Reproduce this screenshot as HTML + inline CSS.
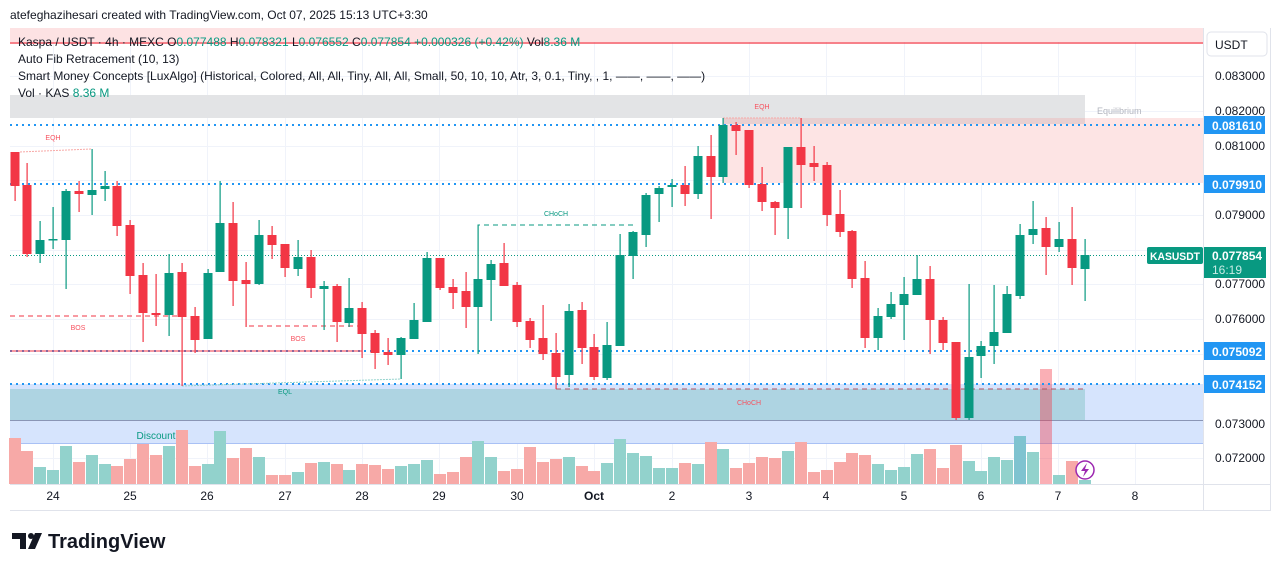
<!DOCTYPE html>
<html><head><meta charset="utf-8"><style>
body{margin:0;background:#fff;width:1281px;height:571px;overflow:hidden;font-family:"Liberation Sans",sans-serif}
svg{position:absolute;left:0;top:0}
text{font-family:"Liberation Sans",sans-serif}
</style></head><body>
<svg id="s" width="1281" height="571" xmlns="http://www.w3.org/2000/svg">
<rect x="0" y="0" width="1281" height="571" fill="#fff"/>
<g id="grid" stroke="#f0f3fa" stroke-width="1"></g>
<rect x="10" y="28" width="1193" height="14" fill="#fde2e3"/>
<line x1="10" y1="43" x2="1203" y2="43" stroke="#f23645" stroke-width="1.2"/>
<rect x="10" y="95" width="1075" height="23" fill="#e3e4e6"/>
<rect x="723" y="118" width="480" height="65" fill="#fde4e4"/>
<rect x="723" y="118" width="362" height="6" fill="#e8cfd0"/>
<rect x="10" y="384" width="1193" height="59" fill="#d6e4fd"/>
<rect x="10" y="389" width="1075" height="31" fill="#aed4e2"/>
<line x1="10" y1="420.5" x2="1203" y2="420.5" stroke="#8a95b5"/>
<line x1="10" y1="443.5" x2="1203" y2="443.5" stroke="#a9c1f5"/>
<text x="1097" y="114" font-size="9" fill="#b2b5be">Equilibrium</text>
<g id="vol"></g>
<g stroke="#2196f3" stroke-width="2" stroke-dasharray="2,4">
<line x1="10" y1="125" x2="1203" y2="125"/>
<line x1="10" y1="184" x2="1203" y2="184"/>
<line x1="10" y1="351" x2="1203" y2="351"/>
<line x1="10" y1="384" x2="1203" y2="384"/>
</g>
<line x1="10" y1="351" x2="362" y2="351" stroke="#f23645" stroke-width="1"/>
<line x1="10" y1="255.5" x2="1145" y2="255.5" stroke="#089981" stroke-dasharray="1,2"/>
<g fill="none" stroke-width="1">
<path d="M10 316 H182" stroke="#f23645" stroke-dasharray="5,4"/>
<path d="M246 284 V326 H360" stroke="#f23645" stroke-dasharray="5,4"/>
<path d="M478 354 V225 H637" stroke="#089981" stroke-dasharray="5,4"/>
<path d="M556 389 H1085" stroke="#b2525e" stroke-dasharray="5,4"/>
<path d="M20 152 L92 149" stroke="#f7a9a7" stroke-dasharray="2,1"/>
<path d="M723 118 H801" stroke="#f7a9a7" stroke-dasharray="2,1"/>
<path d="M182 386 L401 379" stroke="#92d2cc" stroke-dasharray="2,1"/>
</g>
<g font-size="7" text-anchor="middle">
<text x="53" y="140" fill="#f7525f">EQH</text>
<text x="762" y="109" fill="#f7525f">EQH</text>
<text x="78" y="330" fill="#f7525f">BOS</text>
<text x="298" y="341" fill="#f7525f">BOS</text>
<text x="556" y="216" fill="#089981">CHoCH</text>
<text x="749" y="405" fill="#f7525f">CHoCH</text>
<text x="285" y="394" fill="#089981">EQL</text>
</g>
<text x="156" y="439" font-size="10" fill="#089981" text-anchor="middle">Discount</text>
<g id="candles"></g>
<line x1="1203.5" y1="28" x2="1203.5" y2="510" stroke="#e0e3eb"/>
<line x1="10" y1="484.5" x2="1271" y2="484.5" stroke="#e0e3eb"/>
<line x1="1270.5" y1="28" x2="1270.5" y2="510" stroke="#e0e3eb"/>
<line x1="10" y1="510.5" x2="1271" y2="510.5" stroke="#e0e3eb"/>
<rect x="1207" y="32" width="60" height="24" rx="4" fill="#fff" stroke="#e0e3eb"/>
<text x="1215" y="49" font-size="12" fill="#131722">USDT</text>
<g id="yl" font-size="12" fill="#131722"></g>
<g id="xl" font-size="12" fill="#131722" text-anchor="middle"></g>
<g font-size="12" font-weight="bold" fill="#fff">
<rect x="1204" y="116" width="61" height="18" fill="#2196f3"/><text x="1212" y="130">0.081610</text>
<rect x="1204" y="175" width="61" height="18" fill="#2196f3"/><text x="1212" y="189">0.079910</text>
<rect x="1204" y="342" width="61" height="18" fill="#2196f3"/><text x="1212" y="356">0.075092</text>
<rect x="1204" y="375" width="61" height="18" fill="#2196f3"/><text x="1212" y="389">0.074152</text>
<rect x="1147" y="247" width="56" height="17" rx="2" fill="#089981"/><text x="1150" y="260" font-size="11" textLength="50" lengthAdjust="spacingAndGlyphs">KASUSDT</text>
<rect x="1204" y="247" width="62" height="31" fill="#089981"/><text x="1212" y="260">0.077854</text>
<text x="1212" y="274" font-weight="normal" fill="#c8ebe5">16:19</text>
</g>
<circle cx="1085" cy="470" r="9" fill="#fff" stroke="#9c27b0" stroke-width="1.5"/>
<path d="M1087 463 L1081 471 H1085 L1083 477 L1089 469 H1085 Z" fill="#9c27b0"/>
<text x="10" y="19" font-size="12" fill="#131722">atefeghazihesari created with TradingView.com, Oct 07, 2025 15:13 UTC+3:30</text>
<g font-size="12" fill="#131722">
<text x="18" y="46">Kaspa / USDT · 4h · MEXC  O<tspan fill="#089981">0.077488</tspan>  H<tspan fill="#089981">0.078321</tspan>  L<tspan fill="#089981">0.076552</tspan>  C<tspan fill="#089981">0.077854  +0.000326 (+0.42%)</tspan>  Vol<tspan fill="#089981">8.36 M</tspan></text>
<text x="18" y="63">Auto Fib Retracement (10, 13)</text>
<text x="18" y="80">Smart Money Concepts [LuxAlgo] (Historical, Colored, All, All, Tiny, All, All, Small, 50, 10, 10, Atr, 3, 0.1, Tiny, , 1, ——, ——, ——)</text>
<text x="18" y="97">Vol · KAS  <tspan fill="#089981">8.36 M</tspan></text>
</g>
<g fill="#131722">
<path d="M12 533 H26 V549 H20 V539 H12 Z"/>
<circle cx="31" cy="536" r="3"/>
<path d="M35 533 H42 L35 549 H28 Z"/>
</g>
<text x="48" y="548" font-size="20" font-weight="bold" fill="#131722">TradingView</text>
</svg>
<script>
var NS="http://www.w3.org/2000/svg";
function el(p,t,a){var e=document.createElementNS(NS,t);for(var k in a)e.setAttribute(k,a[k]);p.appendChild(e);return e;}
var g=document.getElementById('grid');
var ys=[76,111,146,180,215,250,284,319,354,389,424,458];
var xs=[53,130,207,285,362,439,517,594,672,749,826,904,981,1058,1135];
ys.forEach(function(y){el(g,'line',{x1:10,x2:1203,y1:y+.5,y2:y+.5});});
xs.forEach(function(x){el(g,'line',{x1:x+.5,x2:x+.5,y1:28,y2:484});});
var yl=document.getElementById('yl');
var pv=['0.083000','0.082000','0.081000','0.080000','0.079000','0.078000','0.077000','0.076000','0.075000','0.074000','0.073000','0.072000'];
ys.forEach(function(y,i){if(i==3||i==5||i==9)return;el(yl,'text',{x:1215,y:y+4}).textContent=pv[i];});
var xl=document.getElementById('xl');
var xt=['24','25','26','27','28','29','30','Oct','2','3','4','5','6','7','8'];
xs.forEach(function(x,i){var t=el(xl,'text',{x:x,y:500});t.textContent=xt[i];if(i==7)t.setAttribute('font-weight','bold');});
var C=[[15,152,186,152,201,'r'],[27,185,254,163,257,'r'],[40,240,254,221,263,'g'],[53,239,240,207,249,'g'],[66,191,240,189,289,'g'],[79,191,194,181,212,'r'],[92,190,195,149,215,'g'],[105,186,189,171,201,'g'],[117,186,226,181,236,'r'],[130,225,276,220,294,'r'],[143,275,313,263,342,'r'],[156,313,315,274,326,'r'],[169,273,315,254,336,'g'],[182,272,317,263,386,'r'],[195,316,340,307,353,'r'],[208,273,339,269,339,'g'],[220,223,272,181,272,'g'],[233,223,281,202,306,'r'],[246,280,284,262,327,'r'],[259,235,284,220,285,'g'],[272,235,245,226,259,'r'],[285,244,268,244,277,'r'],[298,257,269,240,276,'g'],[311,257,288,250,298,'r'],[324,286,289,281,330,'g'],[337,286,322,284,342,'r'],[349,308,323,278,327,'g'],[362,308,334,302,358,'r'],[375,333,353,330,369,'r'],[388,352,355,338,365,'r'],[401,338,355,337,379,'g'],[414,320,339,303,339,'g'],
[427,258,322,252,322,'g'],[440,258,288,258,290,'r'],[453,287,293,279,309,'r'],[466,291,307,272,328,'r'],[478,279,307,225,354,'g'],[491,264,280,260,321,'g'],[504,263,286,243,286,'r'],[517,285,322,282,327,'r'],[530,321,340,318,348,'r'],[543,338,354,305,360,'r'],[556,353,377,333,389,'r'],[569,311,375,304,387,'g'],[582,310,348,302,364,'r'],[594,347,377,334,380,'r'],[607,345,378,322,380,'g'],[620,255,346,234,346,'g'],[633,232,256,231,279,'g'],[646,195,235,193,247,'g'],[659,188,194,186,222,'g'],[672,185,187,179,207,'g'],[685,185,194,166,206,'r'],[698,156,194,146,199,'g'],[711,156,177,135,219,'r'],[723,125,177,118,183,'g'],[736,125,131,122,155,'r'],[749,130,185,130,188,'r'],[762,184,202,167,211,'r'],[775,202,208,201,235,'r'],[788,147,208,147,239,'g'],[801,147,165,118,208,'r'],[814,163,167,146,181,'r'],
[827,165,215,162,226,'r'],[840,214,232,190,237,'r'],[852,231,279,230,288,'r'],[865,278,338,261,348,'r'],[878,316,338,308,350,'g'],[891,304,317,292,319,'g'],[904,294,305,277,340,'g'],[917,279,295,255,295,'g'],[930,279,320,266,354,'r'],[943,320,343,317,350,'r'],[956,342,418,342,420,'r'],[969,357,418,284,420,'g'],[981,346,356,341,378,'g'],[994,332,346,285,364,'g'],[1007,294,333,286,333,'g'],[1020,235,296,224,299,'g'],[1033,229,235,201,244,'g'],[1046,228,247,217,275,'r'],[1059,239,247,222,252,'g'],[1072,239,268,207,285,'r'],[1085,255,269,239,301,'g']];
var V=[[15,438],[27,451],[40,467],[53,470],[66,446],[79,462],[92,455],[105,464],[117,466],[130,459],[143,444],[156,455],[169,446],[182,430],[195,466],[208,464],[220,431],[233,458],[246,448],[259,457],[272,475],[285,475],[298,472],[311,463],[324,462],[337,464],[349,470],[362,464],[375,465],[388,469],[401,466],[414,464],
[427,460],[440,474],[453,472],[466,457],[478,441],[491,457],[504,471],[517,469],[530,447],[543,462],[556,459],[569,457],[582,466],[594,471],[607,463],[620,439],[633,453],[646,456],[659,468],[672,468],[685,463],[698,464],[711,442],[723,449],[736,468],[749,463],[762,457],[775,458],[788,451],[801,442],[814,472],
[827,470],[840,462],[852,453],[865,455],[878,464],[891,470],[904,467],[917,454],[930,449],[943,468],[956,445],[969,461],[981,471],[994,457],[1007,460],[1020,436],[1033,452],[1046,369],[1059,475],[1072,461],[1085,480]];
var vg=document.getElementById('vol');
V.forEach(function(v,i){var c=C[i][5];var col=c=='g'?'#92d2cc':'#f7a9a7';if(i==C.length-1)col='#92d2cc';if(v[0]==1046)col='rgba(242,54,69,0.4)';if(v[0]==1020)col='#7fc3d0';el(vg,'rect',{x:v[0]-6,y:v[1],width:12,height:484-v[1],fill:col});});
var cg=document.getElementById('candles');
C.forEach(function(c){var col=c[5]=='g'?'#089981':'#f23645';el(cg,'rect',{x:c[0]-0.5,y:c[3],width:1.2,height:c[4]-c[3],fill:col});el(cg,'rect',{x:c[0]-4.5,y:c[1],width:9,height:Math.max(1.5,c[2]-c[1]),fill:col});});
</script>
</body></html>
